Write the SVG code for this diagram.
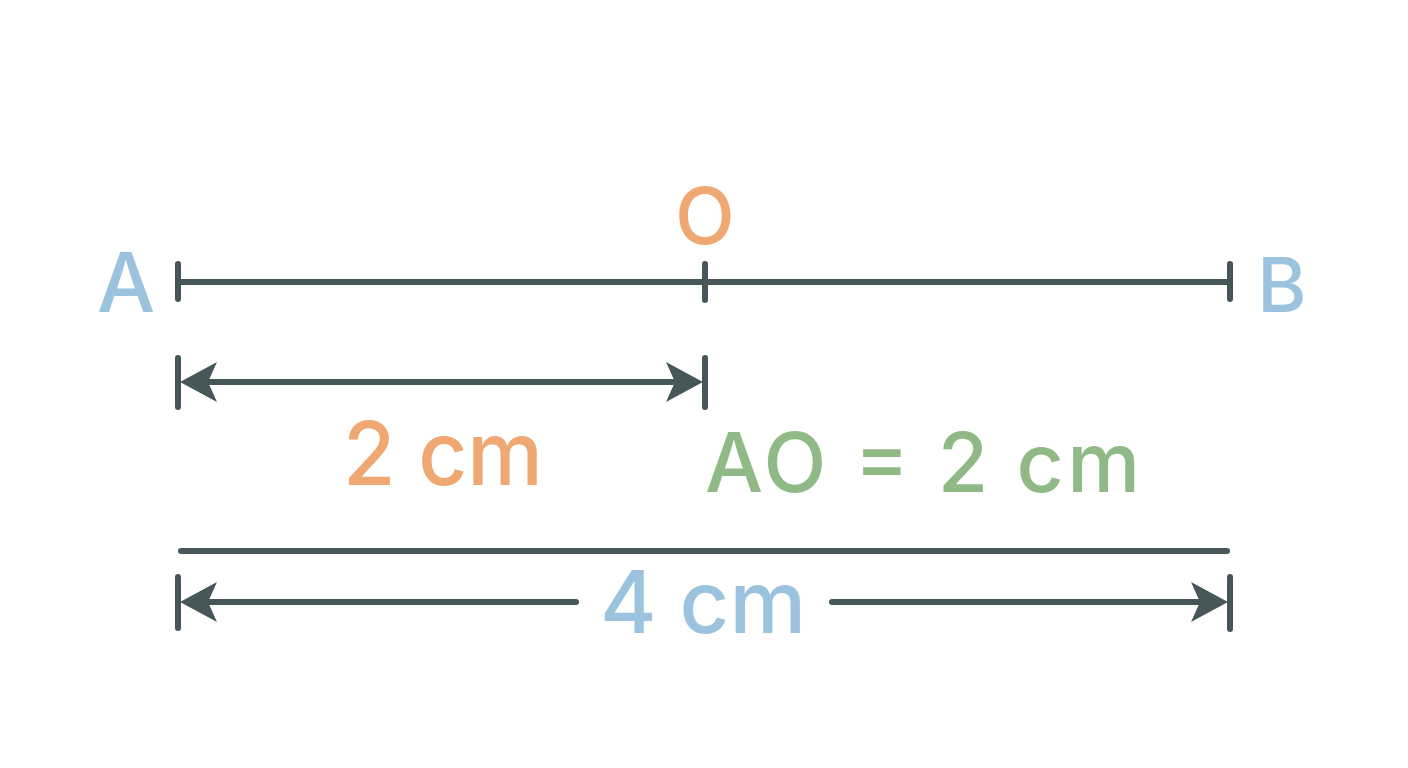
<svg xmlns="http://www.w3.org/2000/svg" xmlns:xlink="http://www.w3.org/1999/xlink" width="1408" height="768" viewBox="0 0 1408 768">
<style>
.ln{stroke:#465659;stroke-width:6;stroke-linecap:round;fill:none}
.hd{fill:#465659}
.t{font-family:Inter,"Liberation Sans",Arial,sans-serif;font-weight:500}
.blue{fill:#9cc3dd}
.orange{fill:#f0a872}
.green{fill:#8fba86}
</style>
<defs>
<path id="headL" d="M0,0 L37,-20 L28,0 L37,20 Z"/>
</defs>
<rect width="1408" height="768" fill="#ffffff"/>
<g id="segment-AB">
<line class="ln" x1="178" y1="264" x2="178" y2="299"/>
<line class="ln" x1="705" y1="264" x2="705" y2="300"/>
<line class="ln" x1="1230" y1="264" x2="1230" y2="299"/>
</g>
<g id="label-A"><text class="t blue" x="126" y="312" font-size="82" text-anchor="middle">A</text></g>
<g id="label-O"><text class="t orange" x="705" y="244" font-size="78" text-anchor="middle">O</text></g>
<g id="label-B"><text class="t blue" x="1282" y="312" font-size="75" text-anchor="middle">B</text></g>
<g id="connectors">
<line class="ln" x1="178" y1="282" x2="1230" y2="282"/>
<g id="dim-AO">
<line class="ln" x1="178" y1="358" x2="178" y2="407"/>
<line class="ln" x1="705" y1="358" x2="705" y2="407"/>
<line class="ln" x1="200" y1="382" x2="685" y2="382"/>
<use xlink:href="#headL" class="hd" transform="translate(180,382)"/>
<use xlink:href="#headL" class="hd" transform="translate(703,382) scale(-1,1)"/>
</g>
<g id="line-mid">
<line class="ln" x1="181" y1="551" x2="1227" y2="551"/>
</g>
<g id="dim-AB">
<line class="ln" x1="178" y1="577" x2="178" y2="628"/>
<line class="ln" x1="1230" y1="577" x2="1230" y2="629"/>
<line class="ln" x1="200" y1="602" x2="576" y2="602"/>
<line class="ln" x1="832" y1="602" x2="1208" y2="602"/>
<use xlink:href="#headL" class="hd" transform="translate(180,602)"/>
<use xlink:href="#headL" class="hd" transform="translate(1228,602) scale(-1,1)"/>
</g>
</g>
<g id="label-2cm"><text class="t orange" x="343" y="485" font-size="88" textLength="200" lengthAdjust="spacingAndGlyphs">2 cm</text></g>
<g id="label-AO-eq"><text class="t green" x="705" y="492" font-size="82" textLength="435" lengthAdjust="spacing">AO = 2 cm</text></g>
<g id="label-4cm"><text class="t blue" x="600" y="633" font-size="86" textLength="206" lengthAdjust="spacingAndGlyphs">4 cm</text></g>
</svg>
